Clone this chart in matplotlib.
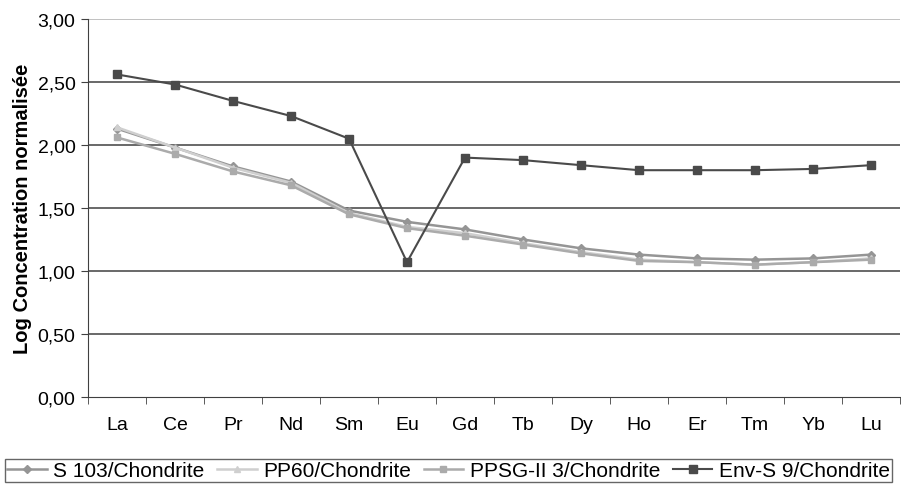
import matplotlib.pyplot as plt
import numpy as np

plt.rcParams['font.family'] = ['Liberation Sans', 'DejaVu Sans']

# --- data ---
elements = ["La", "Ce", "Pr", "Nd", "Sm", "Eu", "Gd", "Tb", "Dy", "Ho", "Er", "Tm", "Yb", "Lu"]
s103 = [2.13, 1.98, 1.83, 1.71, 1.48, 1.39, 1.33, 1.25, 1.18, 1.13, 1.10, 1.09, 1.10, 1.13]
pp60 = [2.14, 1.98, 1.82, 1.70, 1.46, 1.35, 1.30, 1.22, 1.15, 1.09, 1.07, 1.05, 1.07, 1.10]
ppsg = [2.06, 1.93, 1.79, 1.68, 1.45, 1.34, 1.28, 1.21, 1.14, 1.08, 1.07, 1.05, 1.07, 1.09]
envs9 = [2.56, 2.48, 2.35, 2.23, 2.05, 1.07, 1.90, 1.88, 1.84, 1.80, 1.80, 1.80, 1.81, 1.84]
yticks = [0.0, 0.5, 1.0, 1.5, 2.0, 2.5, 3.0]

fig = plt.figure(figsize=(9.01, 4.89), dpi=100)
ax = fig.add_axes([88 / 901, 1 - 398 / 489, 812 / 901, 378 / 489])

x = np.arange(len(elements))
ax.plot(x, s103, color='#959595', lw=1.8, marker='D', ms=4.5, label='S 103/Chondrite')
ax.plot(x, pp60, color='#cfcfcf', lw=1.8, marker='^', ms=5, label='PP60/Chondrite')
ax.plot(x, ppsg, color='#ababab', lw=1.8, marker='s', ms=4, label='PPSG-II 3/Chondrite')
ax.plot(x, envs9, color='#4a4a4a', lw=1.5, marker='s', ms=6, label='Env-S 9/Chondrite')

# horizontal grid
for yv in yticks[1:-1]:
    ax.axhline(yv, color='#404040', lw=1.1, zorder=0)
ax.axhline(3.0, color='#b0b0b0', lw=1.1, zorder=0)

ax.set_xlim(-0.5, len(elements) - 0.5)
ax.set_ylim(0, 3.0)
ax.set_yticks(yticks)
ax.set_yticklabels([f"{v:.2f}".replace('.', ',') for v in yticks], fontsize=14)
ax.set_xticks(x)
ax.set_xticklabels(elements, fontsize=14)
ax.set_xticks(np.arange(len(elements) + 1) - 0.5, minor=True)
ax.tick_params(axis='x', which='major', length=0, pad=14)
ax.tick_params(axis='x', which='minor', length=5, color='#404040')
ax.tick_params(axis='y', length=5, color='#404040', pad=4)

for s in ['top', 'right']:
    ax.spines[s].set_visible(False)
ax.spines['left'].set_color('#404040')
ax.spines['bottom'].set_color('#404040')

ax.set_ylabel("Log Concentration normalisée", fontsize=14.5, fontweight='bold', labelpad=4)

leg = fig.legend(loc='upper left', bbox_to_anchor=(5 / 901, 1 - 460 / 489),
                 ncol=4, fontsize=15, frameon=True, fancybox=False,
                 handlelength=1.9, handletextpad=0.3, borderpad=0.1,
                 borderaxespad=0, columnspacing=0.62)
leg.get_frame().set_edgecolor('#404040')
leg.get_frame().set_linewidth(1.0)

fig.savefig('out.png', dpi=100)
